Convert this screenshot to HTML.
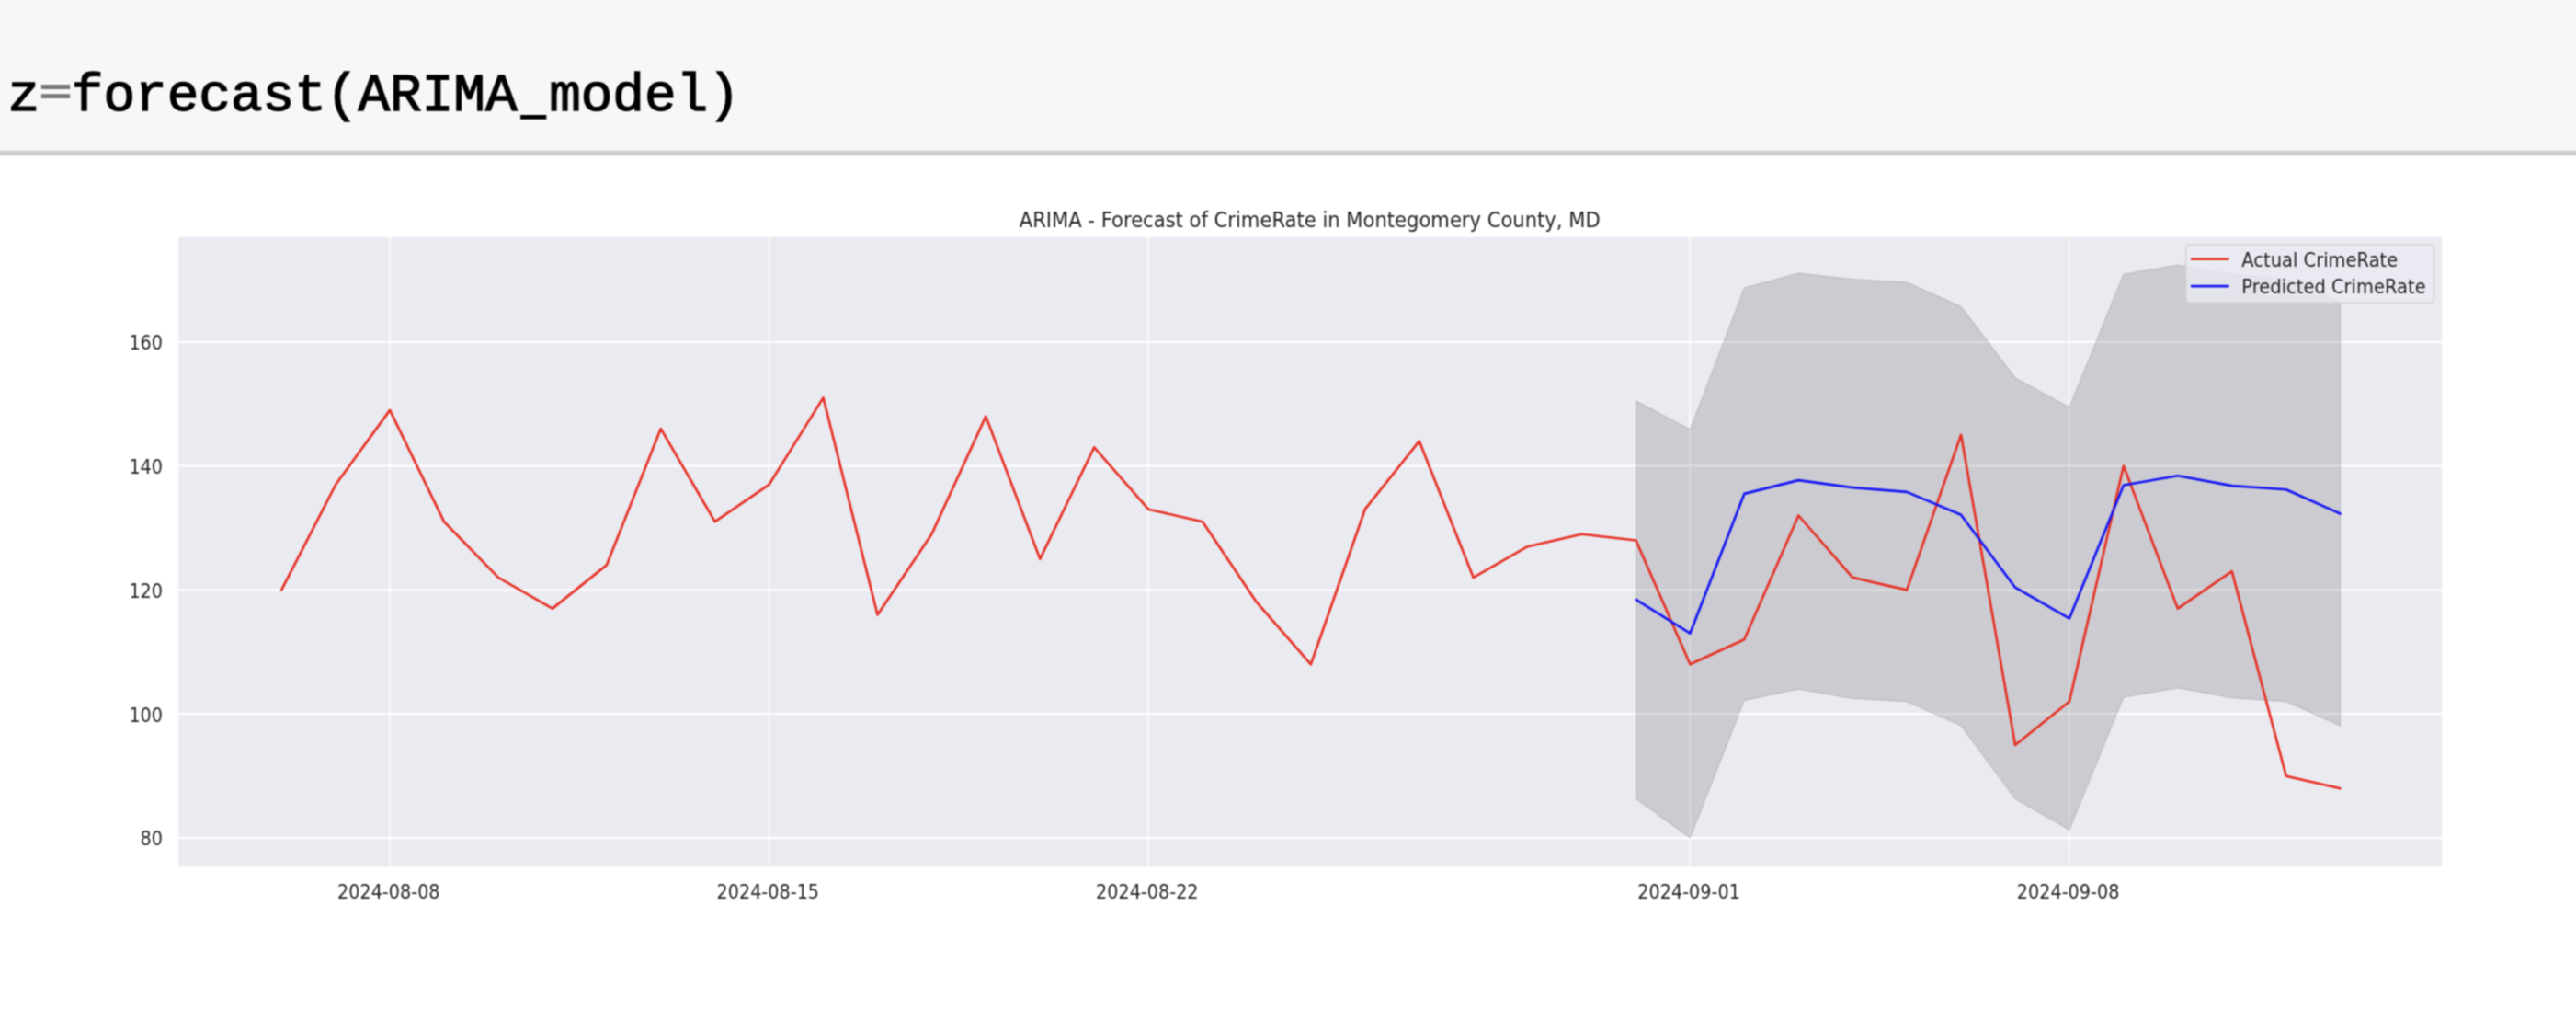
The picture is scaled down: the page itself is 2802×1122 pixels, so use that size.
<!DOCTYPE html>
<html lang="en">
<head>
<meta charset="utf-8">
<title>ARIMA forecast</title>
<style>
html,body{margin:0;padding:0;background:#fff;overflow:hidden;}
body{width:2802px;height:1122px;position:relative;}
#clip{position:absolute;left:0;top:0;width:2802px;height:1122px;overflow:hidden;background:#fff;}
#wrap{position:absolute;left:-30px;top:-30px;width:2862px;height:1182px;background:#fff;filter:url(#soft);}
#page{position:absolute;left:30px;top:30px;width:2802px;height:1122px;}
.cell{position:absolute;left:-30px;top:-30px;width:2862px;height:194px;background:#f7f7f7;}
.code{position:absolute;left:8.6px;top:76.3px;margin:0;white-space:pre;
  font-family:"Liberation Mono","DejaVu Sans Mono",monospace;font-size:57.7px;line-height:1;color:#000;
  -webkit-text-stroke:1.3px #000;}
.code .us{display:inline-block;transform:translateY(3.6px) scale(0.78,1.15);transform-origin:50% 100%;}
.code .op{display:inline-block;color:#787878;-webkit-text-stroke:3.2px #787878;transform:translateY(-3px) scaleY(0.66);transform-origin:50% 57.5%;}
svg{overflow:visible;}

</style>
</head>
<body>
<svg width="0" height="0" style="position:absolute"><defs><filter id="soft" x="0" y="0" width="100%" height="100%" color-interpolation-filters="sRGB"><feConvolveMatrix order="3" kernelMatrix="1 2 1 2 4 2 1 2 1" edgeMode="duplicate" preserveAlpha="true"/></filter></defs></svg>
<div id="clip"><div id="wrap"><div id="page">
<div class="cell"></div>
<pre class="code" id="code">z<span class="op">=</span>forecast(ARIMA<span class="us">_</span>model)</pre>
<svg width="2802" height="1122" viewBox="0 0 2802 1122" style="position:absolute;left:0;top:0" font-family="'DejaVu Sans', 'Liberation Sans', sans-serif">
<rect x="-30" y="163.9" width="2862" height="5.3" fill="#cecece"/>
<rect x="194.2" y="257.8" width="2462.0" height="684.5" fill="#eaeaf1"/>
<path d="M423.9 257.8V942.3M836.4 257.8V942.3M1248.9 257.8V942.3M1838.2 257.8V942.3M2250.7 257.8V942.3" stroke="#ffffff" stroke-width="1.35" fill="none"/>
<path d="M194.2 911.1H2656.2M194.2 776.2H2656.2M194.2 641.4H2656.2M194.2 506.5H2656.2M194.2 371.7H2656.2" stroke="#ffffff" stroke-width="2.05" fill="none"/>
<polygon points="1779.5,435.8 1838.4,466.8 1897.3,313.0 1956.3,296.9 2015.2,303.6 2074.1,307.0 2133.1,333.3 2192.0,410.8 2250.9,442.8 2309.9,298.2 2368.8,288.1 2427.7,298.2 2486.7,302.9 2545.6,328.5 2545.6,789.1 2486.7,762.8 2427.7,758.7 2368.8,747.9 2309.9,758.0 2250.9,902.3 2192.0,868.6 2133.1,789.1 2074.1,762.8 2015.2,759.4 1956.3,749.3 1897.3,761.4 1838.4,911.1 1779.5,868.6" fill="#000" fill-opacity="0.13" stroke="#000" stroke-opacity="0.10" stroke-width="1.5" stroke-linejoin="miter"/>
<polyline points="306.2,641.4 365.2,526.8 424.1,445.9 483.0,567.2 542.0,627.9 600.9,661.6 659.8,614.4 718.8,466.1 777.7,567.2 836.6,526.8 895.5,432.4 954.5,668.4 1013.4,580.7 1072.3,452.6 1131.3,607.7 1190.2,486.3 1249.1,553.7 1308.1,567.2 1367.0,654.9 1425.9,722.3 1484.8,553.7 1543.8,479.6 1602.7,627.9 1661.6,594.2 1720.6,580.7 1779.5,587.5 1838.4,722.3 1897.3,695.3 1956.3,560.5 2015.2,627.9 2074.1,641.4 2133.1,472.8 2192.0,810.0 2250.9,762.8 2309.9,506.5 2368.8,661.6 2427.7,621.2 2486.7,843.7 2545.6,857.2" fill="none" stroke="#e63226" stroke-width="2.65" stroke-linejoin="round" stroke-linecap="round"/>
<polyline points="1779.5,651.9 1838.4,688.6 1897.3,536.9 1956.3,522.1 2015.2,530.1 2074.1,534.9 2133.1,559.8 2192.0,638.7 2250.9,672.4 2309.9,527.5 2368.8,517.3 2427.7,528.1 2486.7,532.2 2545.6,558.5" fill="none" stroke="#1616f4" stroke-width="2.65" stroke-linejoin="round" stroke-linecap="round"/>
<text class="t" transform="translate(177.0 919.4) scale(1 1.13)" font-size="19.2" fill="#262626" text-anchor="end">80</text>
<text class="t" transform="translate(177.0 784.5) scale(1 1.13)" font-size="19.2" fill="#262626" text-anchor="end">100</text>
<text class="t" transform="translate(177.0 649.7) scale(1 1.13)" font-size="19.2" fill="#262626" text-anchor="end">120</text>
<text class="t" transform="translate(177.0 514.8) scale(1 1.13)" font-size="19.2" fill="#262626" text-anchor="end">140</text>
<text class="t" transform="translate(177.0 380.0) scale(1 1.13)" font-size="19.2" fill="#262626" text-anchor="end">160</text>
<text class="t" transform="translate(422.8 976.7) scale(1 1.13)" font-size="19.2" fill="#262626" text-anchor="middle">2024-08-08</text>
<text class="t" transform="translate(835.3 976.7) scale(1 1.13)" font-size="19.2" fill="#262626" text-anchor="middle">2024-08-15</text>
<text class="t" transform="translate(1247.8 976.7) scale(1 1.13)" font-size="19.2" fill="#262626" text-anchor="middle">2024-08-22</text>
<text class="t" transform="translate(1837.1 976.7) scale(1 1.13)" font-size="19.2" fill="#262626" text-anchor="middle">2024-09-01</text>
<text class="t" transform="translate(2249.6 976.7) scale(1 1.13)" font-size="19.2" fill="#262626" text-anchor="middle">2024-09-08</text>
<text class="t" transform="translate(1424.7 246.5) scale(1 1.13)" font-size="21.1" fill="#262626" text-anchor="middle">ARIMA - Forecast of CrimeRate in Montegomery County, MD</text>
<rect x="2377.6" y="266" width="270" height="63.2" rx="4" ry="4" fill="#eaeaf2" fill-opacity="0.8" stroke="#cccccc" stroke-opacity="0.75" stroke-width="1.6"/>
<path d="M2384 281.7H2423.6" stroke="#e63226" stroke-width="2.65" stroke-linecap="round" fill="none"/>
<path d="M2384 311.1H2423.6" stroke="#1616f4" stroke-width="2.65" stroke-linecap="round" fill="none"/>
<text class="t" transform="translate(2438.3 289.6) scale(1 1.1)" font-size="19.5" fill="#262626" text-anchor="start">Actual CrimeRate</text>
<text class="t" transform="translate(2438.3 319.2) scale(1 1.1)" font-size="19.5" fill="#262626" text-anchor="start">Predicted CrimeRate</text>
</svg>
</div></div></div>
</body>
</html>
